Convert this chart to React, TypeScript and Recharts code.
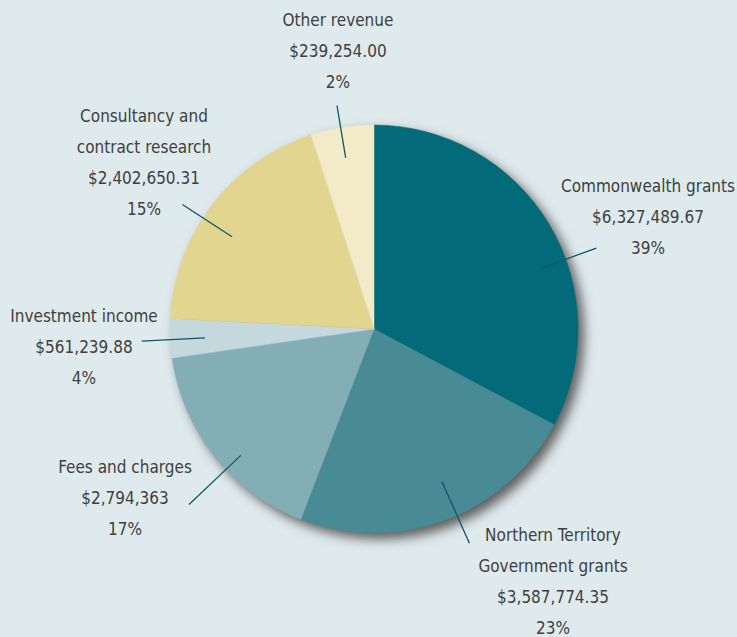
import React from 'react';
import { PieChart, Pie, Cell } from 'recharts';

// Revenue categories (clockwise from 12 o'clock)
const categories = [
  'Commonwealth grants',
  'Northern Territory Government grants',
  'Fees and charges',
  'Investment income',
  'Consultancy and contract research',
  'Other revenue',
];
// slice shares as drawn in the picture
const sliceShares = [32.8, 23.1, 16.9, 3.1, 19.2, 5.0];
// amounts and percentages as printed
const amountLabels = ['$6,327,489.67', '$3,587,774.35', '$2,794,363', '$561,239.88', '$2,402,650.31', '$239,254.00'];
const percentLabels = ['39%', '23%', '17%', '4%', '15%', '2%'];
// label name lines as printed
const nameLines = [
  ['Commonwealth grants'],
  ['Northern Territory', 'Government grants'],
  ['Fees and charges'],
  ['Investment income'],
  ['Consultancy and', 'contract research'],
  ['Other revenue'],
];

const colors = ['#026a78', '#488b94', '#84aeb6', '#c3d9de', '#e2d58f', '#f3eac8'];
const BG = '#dfeaed';

// label layout: leader line (angle deg, inner radius frac, outer radius frac), text block offset
const leader = [
  { a: 20, r1: 0.87, r2: 1.16 },
  { a: -66, r1: 0.82, r2: 1.15 },
  { a: 223.5, r1: 0.9, r2: 1.25 },
  { a: 183, r1: 0.83, r2: 1.14 },
  { a: 147, r1: 0.83, r2: 1.12 },
  { a: 99.4, r1: 0.85, r2: 1.11 },
];
const textPos = [
  { dx: 274, dy: -143 },
  { dx: 179, dy: 206 },
  { dx: -249, dy: 138 },
  { dx: -290, dy: -13 },
  { dx: -230, dy: -213 },
  { dx: -36, dy: -309 },
];

const data = categories.map((name, i) => ({ name, value: sliceShares[i] }));
const shadowData = [{ name: 'shadow', value: 1 }];

const RAD = Math.PI / 180;
const LINE_H = 31;

const renderLabel = (props: any) => {
  const { cx, cy, outerRadius, index } = props;
  const L = leader[index];
  const x1 = cx + Math.cos(L.a * RAD) * outerRadius * L.r1;
  const y1 = cy - Math.sin(L.a * RAD) * outerRadius * L.r1;
  const x2 = cx + Math.cos(L.a * RAD) * outerRadius * L.r2;
  const y2 = cy - Math.sin(L.a * RAD) * outerRadius * L.r2;
  const T = textPos[index];
  const lines = [...nameLines[index], amountLabels[index], percentLabels[index]];
  return (
    <g key={`lbl-${index}`}>
      <line x1={x1} y1={y1} x2={x2} y2={y2} stroke="#0c5866" strokeWidth={1.3} />
      {lines.map((t, j) => (
        <text
          key={j}
          x={cx + T.dx}
          y={cy + T.dy + j * LINE_H}
          textAnchor="middle"
          dominantBaseline="central"
          fill="#404040"
          style={{ fontFamily: '"DejaVu Sans Condensed", sans-serif', fontStretch: 'condensed', fontSize: 17 }}
        >
          {t}
        </text>
      ))}
    </g>
  );
};

export default function App() {
  return (
    <div style={{ position: 'absolute', left: 0, top: 0, width: 737, height: 637, background: BG, overflow: 'hidden' }}>
      <svg width={0} height={0} style={{ position: 'absolute' }}>
        <defs>
          <filter id="pieShadow" x="-20%" y="-20%" width="140%" height="140%">
            <feGaussianBlur stdDeviation={6} />
          </filter>
        </defs>
      </svg>
      <PieChart width={737} height={637} margin={{ top: 0, right: 0, bottom: 0, left: 0 }}>
        <Pie
          data={shadowData}
          dataKey="value"
          cx={380}
          cy={335}
          outerRadius={204}
          startAngle={90}
          endAngle={-270}
          stroke="none"
          fill="#5c5c5c"
          isAnimationActive={false}
          label={false}
          labelLine={false}
          style={{ filter: 'url(#pieShadow)' }}
        >
          <Cell fill="#5c5c5c" style={{ filter: 'url(#pieShadow)' }} />
        </Pie>
        <Pie
          data={data}
          dataKey="value"
          cx={374}
          cy={329}
          outerRadius={204}
          startAngle={90}
          endAngle={-270}
          stroke="none"
          isAnimationActive={false}
          label={renderLabel}
          labelLine={false}
        >
          {data.map((d, i) => (
            <Cell key={d.name} fill={colors[i]} stroke={colors[i]} strokeWidth={0.5} />
          ))}
        </Pie>
      </PieChart>
    </div>
  );
}
